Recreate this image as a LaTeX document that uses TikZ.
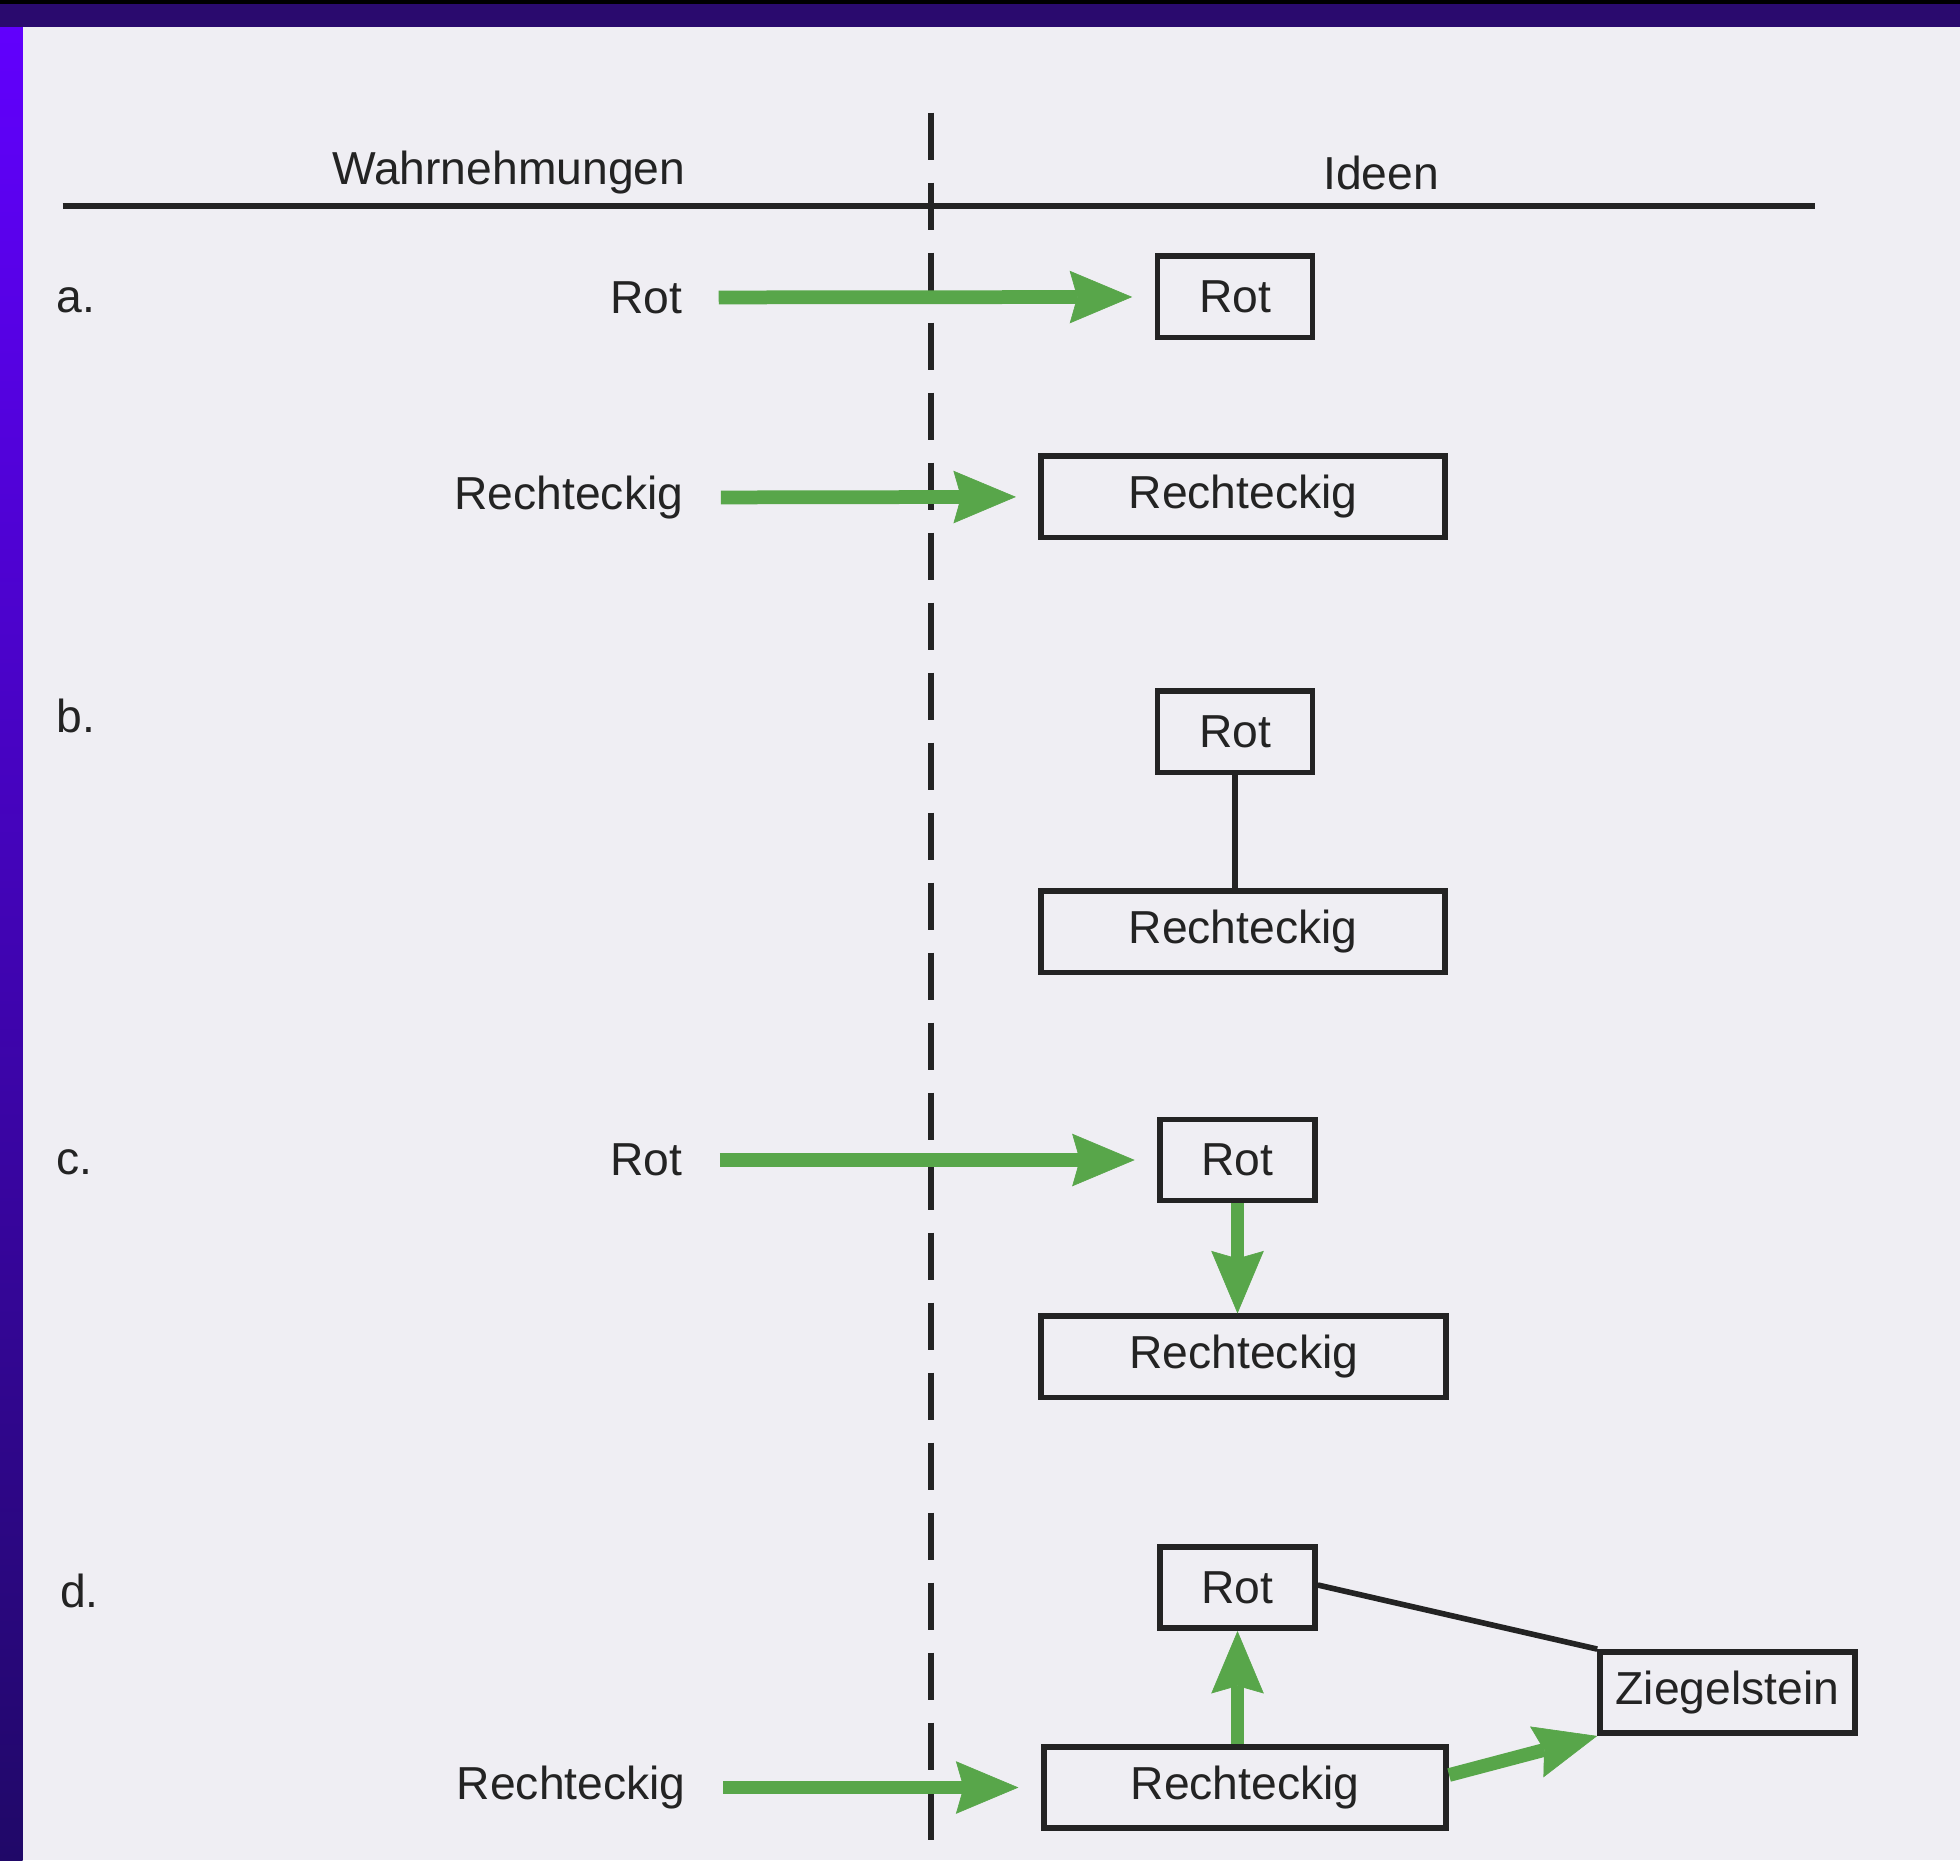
\documentclass[tikz,border=0pt]{standalone}
\usepackage{fontspec}
\setmainfont{Liberation Sans}
\usetikzlibrary{arrows.meta}
\definecolor{pagebg}{RGB}{239,238,243}
\definecolor{topbar}{RGB}{42,10,110}
\definecolor{stripTop}{RGB}{98,0,255}
\definecolor{stripBot}{RGB}{32,8,104}
\definecolor{gr}{RGB}{88,166,74}
\definecolor{ink}{RGB}{35,35,35}
\tikzset{
  lbl/.style={inner sep=0pt, text=ink, font=\fontsize{37}{44}\selectfont},
  ibox/.style={draw=ink, line width=4.5pt, inner sep=0pt, text=ink,
    font=\fontsize{37}{44}\selectfont, minimum height=65pt},
  garrow/.style={draw=gr, line width=11pt,
    -{Stealth[length=50pt, width=42pt, inset=6pt, line width=0.5pt, fill=gr]}},
  bline/.style={draw=ink, line width=4.5pt},
}
\begin{document}
\begin{tikzpicture}[x=1pt,y=-1pt]
\useasboundingbox (0,0) rectangle (1568,1488);
% background
\fill[pagebg] (0,0) rectangle (1568,1488);
\shade[top color=stripTop, bottom color=stripBot] (0,0) rectangle (18,1488);
\fill[topbar] (0,0) rectangle (1568,22);
\fill[black] (0,0) rectangle (1568,3);

% header
\node[lbl] (hw) at (407,138) {Wahrnehmungen};
\node[lbl] (hi) at (1105,138) {Ideen};
\coordinate (rl) at (50,165);
\coordinate (rr) at (1452,165);
\draw[bline] (rl) -- (rr);
\coordinate (dt) at (745,90);
\coordinate (db) at (745,1490);
\draw[draw=ink, line width=4.5pt, dash pattern=on 37.6pt off 18.4pt] (dt) -- (db);

% row labels
\node[lbl, anchor=west] (la) at (45,240) {a.};
\node[lbl, anchor=west] (lb) at (45,573) {b.};
\node[lbl, anchor=west] (lc) at (45,930) {c.};
\node[lbl, anchor=west] (ld) at (48,1273) {d.};

% a.
\node[lbl] (aRotL) at (517,238) {Rot};
\node[ibox, minimum width=124pt] (aRot) at (988,237.5) {Rot};
\draw[garrow, shorten <=29pt, shorten >=18pt] (aRotL) -- (aRot);
\node[lbl] (aRechL) at (455,398) {Rechteckig};
\node[ibox, minimum width=323pt] (aRech) at (994.5,397.5) {Rechteckig};
\draw[garrow, shorten <=30pt, shorten >=18pt] (aRechL.east) -- (aRech.west);

% b.
\node[ibox, minimum width=124pt] (bRot) at (988,585.5) {Rot};
\node[ibox, minimum width=323pt] (bRech) at (994.5,745.5) {Rechteckig};
\draw[bline] (bRot.south) -- (bRot.south |- bRech.north);

% c.
\node[lbl] (cRotL) at (517,928) {Rot};
\node[ibox, minimum width=124pt] (cRot) at (990,928) {Rot};
\draw[garrow, shorten <=30pt, shorten >=18pt] (cRotL.east) -- (cRot.west);
\node[ibox, minimum width=324pt] (cRech) at (995,1085.5) {Rechteckig};
\draw[garrow] (cRot.south) -- (cRot.south |- cRech.north);

% d.
\node[ibox, minimum width=124pt] (dRot) at (990,1270) {Rot};
\node[ibox, minimum width=204pt] (dZieg) at (1382,1354) {Ziegelstein};
\node[ibox, minimum width=322pt] (dRech) at (996,1430) {Rechteckig};
\node[lbl] (dRechL) at (457,1430) {Rechteckig};
\draw[garrow, shorten <=30pt, shorten >=18pt] (dRechL.east) -- (dRech.west);
\draw[garrow] (dRot.south |- dRech.north) -- (dRot.south);
\draw[bline] ([yshift=2pt]dRot.east) -- (dZieg.north west);
\draw[garrow] ([yshift=10pt]dRech.east) -- (dZieg.south west);
\end{tikzpicture}
\end{document}
